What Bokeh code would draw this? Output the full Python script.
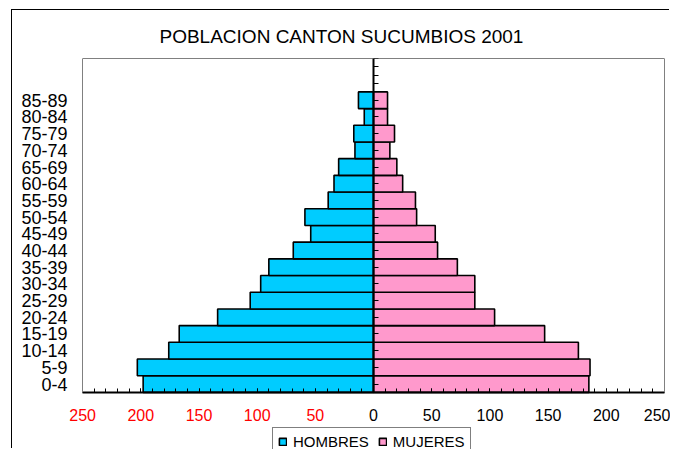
from bokeh.plotting import figure
from bokeh.models import FixedTicker, LinearAxis, Legend, LegendItem, Range1d
from bokeh.embed import file_html
from bokeh.resources import INLINE

AGE_GROUPS = ["0-4", "5-9", "10-14", "15-19", "20-24", "25-29", "30-34", "35-39",
              "40-44", "45-49", "50-54", "55-59", "60-64", "65-69", "70-74",
              "75-79", "80-84", "85-89"]
HOMBRES = [198, 203, 176, 167, 134, 106, 97, 90, 69, 54, 59, 39, 34, 30, 16, 17, 8, 13]
MUJERES = [185, 186, 176, 147, 104, 87, 87, 72, 55, 53, 37, 36, 25, 20, 14, 18, 12, 12]
X_TICKS = [-250, -200, -150, -100, -50, 0, 50, 100, 150, 200, 250]
X_TICK_LABELS = ["250", "200", "150", "100", "50", "0", "50", "100", "150", "200", "250"]
X_MINOR_TICKS = list(range(-250, 251, 10))
Y_EXTRA_TICKS = [18, 18.5, 19, 19.5]

FONT = "Liberation Sans"
BLUE = "#00CCFF"
PINK = "#FF99CC"
GRAY = "#808080"

X_LO, X_HI = -250, 250            # plotting-area extent
Y_LO, Y_HI = -0.5, 19.5           # plotting-area extent (category units)
X_VIEW = (-263, 255.15)           # a little room for the outer tick labels
Y_PAD = -3.92                      # extra room below for tick labels + legend

pos = list(range(len(AGE_GROUPS)))
neg_h = [-v for v in HOMBRES]

p = figure(width=658, height=439,
           x_range=Range1d(*X_VIEW), y_range=Range1d(Y_PAD, Y_HI),
           output_backend="svg", toolbar_location=None,
           min_border_left=55, min_border_right=0,
           min_border_top=48, min_border_bottom=0,
           margin=(10, 0, 0, 12))
p.styles = {"box-shadow": "-1px -1px 0px 0px #000000"}

p.grid.visible = False
p.outline_line_color = None
p.background_fill_color = "white"
p.border_fill_color = "white"
p.xaxis[0].visible = False

r_h = p.hbar(y=pos, left=neg_h, right=0, height=1.0,
             fill_color=BLUE, line_color="black", line_width=1.6)
r_m = p.hbar(y=pos, left=0, right=MUJERES, height=1.0,
             fill_color=PINK, line_color="black", line_width=1.6)

# left category labels
ya = p.yaxis[0]
ya.ticker = FixedTicker(ticks=pos)
ya.major_label_overrides = {i: lab for i, lab in enumerate(AGE_GROUPS)}
ya.axis_line_color = None
ya.major_tick_line_color = None
ya.minor_tick_line_color = None
ya.major_tick_out = 0
ya.major_tick_in = 0
ya.minor_tick_out = 0
ya.major_label_text_font = FONT
ya.major_label_text_font_size = "18px"
ya.major_label_text_color = "black"
ya.major_label_standoff = 0


def edge_axis(loc, side, bounds):
    ax = LinearAxis(fixed_location=loc, ticker=FixedTicker(ticks=[]), bounds=bounds)
    ax.axis_line_color = GRAY
    ax.axis_line_width = 1
    ax.major_tick_line_color = None
    ax.minor_tick_line_color = None
    ax.major_label_text_font_size = "0px"
    ax.major_label_standoff = 0
    p.add_layout(ax, side)
    return ax


# grey left / right edges of the plotting area
edge_axis(X_LO, "left", (Y_LO, Y_HI))
edge_axis(X_HI, "right", (Y_LO, Y_HI))

# grey top edge
tax = LinearAxis(ticker=FixedTicker(ticks=[]), bounds=(X_LO, X_HI))
tax.axis_line_color = GRAY
tax.major_tick_line_color = None
tax.minor_tick_line_color = None
tax.major_tick_out = 0
tax.minor_tick_out = 0
tax.major_label_text_font_size = "0px"
tax.major_label_standoff = 0
p.add_layout(tax, "above")

# centre axis at x = 0
ca = LinearAxis(fixed_location=0, bounds=(Y_LO, Y_HI),
                ticker=FixedTicker(ticks=pos + Y_EXTRA_TICKS))
ca.axis_line_color = "black"
ca.axis_line_width = 2
ca.major_tick_in = 5
ca.major_tick_out = 0
ca.major_tick_line_color = "black"
ca.minor_tick_line_color = None
ca.major_label_text_font_size = "0px"
ca.major_label_text_alpha = 0
p.add_layout(ca, "left")

# bottom axis at the foot of the bars: black labels for >= 0
xa = LinearAxis(fixed_location=Y_LO, bounds=(X_LO, X_HI),
                ticker=FixedTicker(ticks=X_TICKS, minor_ticks=X_MINOR_TICKS))
xa.major_label_overrides = {t: (lab if t >= 0 else "") for t, lab in zip(X_TICKS, X_TICK_LABELS)}
xa.axis_line_color = "black"
xa.axis_line_width = 2
xa.major_tick_in = 4
xa.major_tick_out = 0
xa.minor_tick_in = 4
xa.minor_tick_out = 0
xa.major_tick_line_color = "black"
xa.minor_tick_line_color = "black"
xa.major_label_text_font = FONT
xa.major_label_text_font_size = "16px"
xa.major_label_text_color = "black"
xa.major_label_standoff = 17
p.add_layout(xa, "below")

# red labels for the negative side, same row
ra = LinearAxis(fixed_location=Y_LO, ticker=FixedTicker(ticks=X_TICKS))
ra.major_label_overrides = {t: (lab if t < 0 else "") for t, lab in zip(X_TICKS, X_TICK_LABELS)}
ra.axis_line_color = None
ra.major_tick_line_color = None
ra.minor_tick_line_color = None
ra.major_tick_in = 0
ra.major_tick_out = 0
ra.major_label_text_font = FONT
ra.major_label_text_font_size = "16px"
ra.major_label_text_color = "#FF0000"
ra.major_label_standoff = 17
p.add_layout(ra, "below")

# title
p.title.text = "POBLACION  CANTON SUCUMBIOS 2001"
p.title.text_font = FONT
p.title.text_font_size = "19px"
p.title.text_font_style = "normal"
p.title.text_color = "black"
p.title.align = "left"
p.title.offset = 92
p.title.standoff = 23

legend = Legend(items=[LegendItem(label="HOMBRES", renderers=[r_h]),
                       LegendItem(label="MUJERES", renderers=[r_m])],
                orientation="horizontal", location=(205, -7))
legend.label_text_font = FONT
legend.label_text_font_size = "15px"
legend.label_text_color = "black"
legend.glyph_width = 9
legend.glyph_height = 9
legend.label_standoff = 6
legend.spacing = 9
legend.padding = 5
legend.margin = 0
legend.label_height = 17
legend.border_line_color = "black"
legend.border_line_width = 1
legend.background_fill_color = "white"
legend.background_fill_alpha = 1
p.add_layout(legend, "center")

open("out.html", "w").write(file_html(p, INLINE))
